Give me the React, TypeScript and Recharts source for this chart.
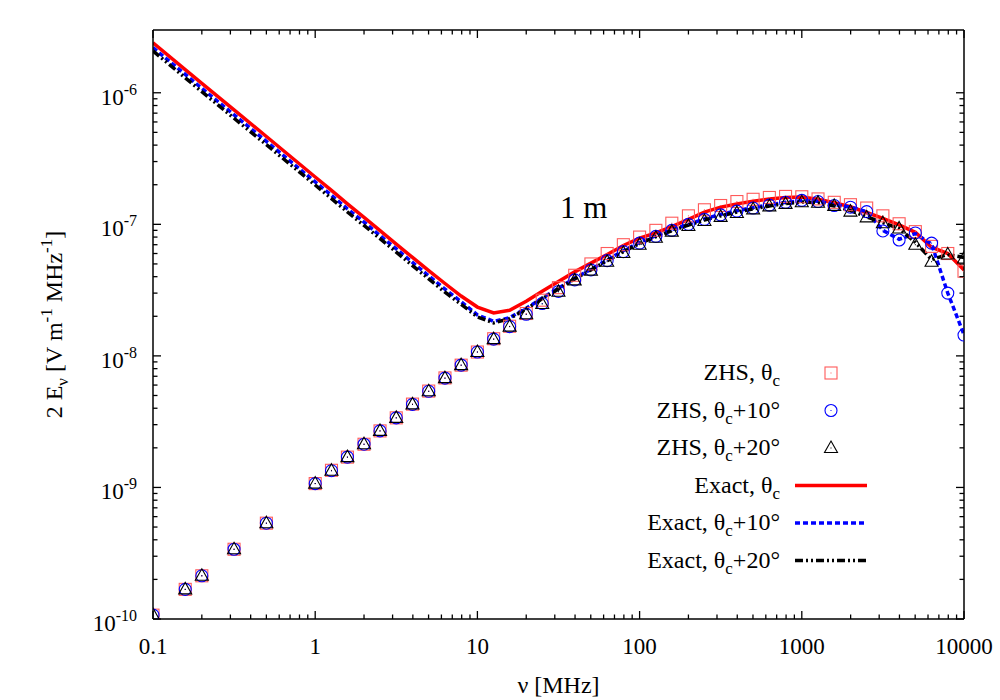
import React from "react";
import { ComposedChart, Legend, Line, Scatter, XAxis, YAxis } from "recharts";

// frequency grid [MHz]
const freq = [
  0.1, 0.158, 0.2, 0.316, 0.5,
  1, 1.26, 1.58, 2, 2.51, 3.16, 3.98, 5.01, 6.31, 7.94,
  10, 12.6, 15.8, 20, 25.1, 31.6, 39.8, 50.1, 63.1, 79.4,
  100, 126, 158, 200, 251, 316, 398, 501, 631, 794,
  1000, 1259, 1585, 1995, 2512, 3162, 3981, 5012, 6310, 7943,
  10000,
];

// ZHS points
const zhsTheta = [
  1.07e-10, 1.68e-10, 2.13e-10, 3.39e-10, 5.35e-10,
  1.07e-9, 1.35e-9, 1.7e-9, 2.13e-9, 2.69e-9, 3.38e-9, 4.3e-9, 5.4e-9, 6.8e-9, 8.5e-9,
  1.07e-8, 1.35e-8, 1.68e-8, 2.1e-8, 2.65e-8, 3.3e-8, 4.1e-8, 5.0e-8, 6.0e-8, 7.0e-8,
  8.0e-8, 9.0e-8, 1.02e-7, 1.16e-7, 1.29e-7, 1.39e-7, 1.49e-7, 1.55e-7, 1.6e-7, 1.63e-7,
  1.62e-7, 1.56e-7, 1.47e-7, 1.41e-7, 1.33e-7, 1.16e-7, 1.01e-7, 8.8e-8, 6.8e-8, 6.0e-8,
  4.4e-8,
];
const zhsTheta10 = [
  1.07e-10, 1.68e-10, 2.13e-10, 3.39e-10, 5.35e-10,
  1.07e-9, 1.34e-9, 1.7e-9, 2.13e-9, 2.69e-9, 3.38e-9, 4.28e-9, 5.38e-9, 6.77e-9, 8.5e-9,
  1.07e-8, 1.34e-8, 1.67e-8, 2.07e-8, 2.5e-8, 3.09e-8, 3.78e-8, 4.5e-8, 5.3e-8, 6.2e-8,
  7.2e-8, 8.1e-8, 9.0e-8, 1.0e-7, 1.09e-7, 1.18e-7, 1.26e-7, 1.33e-7, 1.4e-7, 1.47e-7,
  1.52e-7, 1.49e-7, 1.39e-7, 1.35e-7, 1.25e-7, 8.9e-8, 7.6e-8, 8.6e-8, 7.2e-8, 3.0e-8,
  1.44e-8,
];
const zhsTheta20 = [
  1.07e-10, 1.68e-10, 2.13e-10, 3.39e-10, 5.35e-10,
  1.07e-9, 1.34e-9, 1.7e-9, 2.13e-9, 2.69e-9, 3.38e-9, 4.28e-9, 5.38e-9, 6.77e-9, 8.5e-9,
  1.07e-8, 1.34e-8, 1.67e-8, 2.07e-8, 2.48e-8, 3.07e-8, 3.75e-8, 4.45e-8, 5.2e-8, 6.05e-8,
  7.0e-8, 7.9e-8, 8.8e-8, 9.7e-8, 1.06e-7, 1.14e-7, 1.22e-7, 1.3e-7, 1.37e-7, 1.43e-7,
  1.47e-7, 1.46e-7, 1.38e-7, 1.25e-7, 1.13e-7, 1.02e-7, 9.3e-8, 7.0e-8, 5.2e-8, 5.9e-8,
  5.5e-8,
];

// exact curves
const exactTheta = [
  2.4e-6, 1.5e-6, 1.18e-6, 7.4e-7, 4.65e-7,
  2.29e-7, 1.81e-7, 1.43e-7, 1.13e-7, 8.96e-8, 7.08e-8, 5.6e-8, 4.45e-8, 3.55e-8, 2.85e-8,
  2.35e-8, 2.12e-8, 2.22e-8, 2.6e-8, 3.1e-8, 3.67e-8, 4.35e-8, 5.07e-8, 5.9e-8, 6.9e-8,
  7.85e-8, 8.6e-8, 9.6e-8, 1.09e-7, 1.24e-7, 1.35e-7, 1.43e-7, 1.5e-7, 1.56e-7, 1.6e-7,
  1.61e-7, 1.55e-7, 1.46e-7, 1.36e-7, 1.23e-7, 1.11e-7, 9.9e-8, 8.7e-8, 6.7e-8, 6.0e-8,
  4.5e-8,
];
const exactTheta10 = [
  2.2e-6, 1.38e-6, 1.08e-6, 6.8e-7, 4.27e-7,
  2.1e-7, 1.66e-7, 1.31e-7, 1.04e-7, 8.2e-8, 6.5e-8, 5.13e-8, 4.06e-8, 3.22e-8, 2.58e-8,
  2.05e-8, 1.83e-8, 1.95e-8, 2.3e-8, 2.75e-8, 3.27e-8, 3.9e-8, 4.55e-8, 5.35e-8, 6.3e-8,
  7.3e-8, 8.2e-8, 9.1e-8, 1.0e-7, 1.1e-7, 1.19e-7, 1.27e-7, 1.34e-7, 1.41e-7, 1.47e-7,
  1.51e-7, 1.5e-7, 1.41e-7, 1.35e-7, 1.25e-7, 9.0e-8, 7.7e-8, 8.5e-8, 7.1e-8, 3.0e-8,
  1.45e-8,
];
const exactTheta20 = [
  2.08e-6, 1.3e-6, 1.02e-6, 6.4e-7, 4.03e-7,
  1.99e-7, 1.57e-7, 1.24e-7, 9.8e-8, 7.8e-8, 6.15e-8, 4.86e-8, 3.85e-8, 3.05e-8, 2.47e-8,
  1.98e-8, 1.78e-8, 1.92e-8, 2.27e-8, 2.72e-8, 3.22e-8, 3.85e-8, 4.5e-8, 5.28e-8, 6.2e-8,
  7.15e-8, 8.05e-8, 8.95e-8, 9.85e-8, 1.08e-7, 1.16e-7, 1.24e-7, 1.31e-7, 1.38e-7, 1.44e-7,
  1.48e-7, 1.46e-7, 1.38e-7, 1.27e-7, 1.14e-7, 1.03e-7, 9.3e-8, 7.3e-8, 5.4e-8, 5.9e-8,
  5.6e-8,
];

const xMajor = [0.1, 1, 10, 100, 1000, 10000];
const xLabels = ["0.1", "1", "10", "100", "1000", "10000"];
const yMajor = [1e-10, 1e-9, 1e-8, 1e-7, 1e-6];
const yLabels = ["-10", "-9", "-8", "-7", "-6"];

const minorsOf = (majors: number[]) => {
  const out: number[] = [];
  majors.forEach((m, i) => {
    out.push(m);
    if (i < majors.length - 1) for (let k = 2; k <= 9; k++) out.push(m * k);
  });
  return out;
};
const xTicks = minorsOf(xMajor);
const yTicks = minorsOf(yMajor);

const rows = freq.map((nu, i) => ({
  nu,
  zhs0: zhsTheta[i],
  zhs10: zhsTheta10[i],
  zhs20: zhsTheta20[i],
  ex0: exactTheta[i],
  ex10: exactTheta10[i],
  ex20: exactTheta20[i],
}));

const FONT = "'Liberation Serif', 'Times New Roman', serif";
const MAJ = 8;
const MIN = 4.5;
const isMajor = (v: number, majors: number[]) => majors.some((m) => Math.abs(m - v) / m < 1e-6);

const RED = "#ff0000";
const BLUE = "#0000ff";
const SQ = "#ff5a5a";

const BottomTick = (p: any) => {
  const v = p.payload.value;
  const maj = isMajor(v, xMajor);
  const idx = xMajor.findIndex((m) => Math.abs(m - v) / m < 1e-6);
  return (
    <g>
      <line x1={p.x} x2={p.x} y1={p.y} y2={p.y - (maj ? MAJ : MIN)} stroke="#000" strokeWidth={1.3} />
      {maj && (
        <text x={p.x} y={p.y + 35} textAnchor="middle" fontFamily={FONT} fontSize={23} fill="#000">
          {xLabels[idx]}
        </text>
      )}
    </g>
  );
};

const TopTick = (p: any) => {
  const maj = isMajor(p.payload.value, xMajor);
  return <line x1={p.x} x2={p.x} y1={p.y} y2={p.y + (maj ? MAJ : MIN)} stroke="#000" strokeWidth={1.3} />;
};

const LeftTick = (p: any) => {
  const v = p.payload.value;
  const maj = isMajor(v, yMajor);
  const idx = yMajor.findIndex((m) => Math.abs(m - v) / m < 1e-6);
  return (
    <g>
      <line x1={p.x} x2={p.x + (maj ? MAJ : MIN)} y1={p.y} y2={p.y} stroke="#000" strokeWidth={1.3} />
      {maj && (
        <text x={p.x - 16} y={p.y + 12} textAnchor="end" fontFamily={FONT} fontSize={23} fill="#000">
          10
          <tspan dy={-10} fontSize={16}>
            {yLabels[idx]}
          </tspan>
        </text>
      )}
    </g>
  );
};

const RightTick = (p: any) => {
  const maj = isMajor(p.payload.value, yMajor);
  return <line x1={p.x} x2={p.x - (maj ? MAJ : MIN)} y1={p.y} y2={p.y} stroke="#000" strokeWidth={1.3} />;
};

const SquareDot = (p: any) => (
  <g>
    <rect x={p.cx - 6} y={p.cy - 6} width={12} height={12} fill="none" stroke={SQ} strokeWidth={1.1} />
    <rect x={p.cx - 0.5} y={p.cy - 0.5} width={1} height={1} fill={SQ} />
  </g>
);
const CircleDot = (p: any) => (
  <g>
    <circle cx={p.cx} cy={p.cy} r={6} fill="none" stroke={BLUE} strokeWidth={1.1} />
    <rect x={p.cx - 0.5} y={p.cy - 0.5} width={1} height={1} fill={BLUE} />
  </g>
);
const TriangleDot = (p: any) => (
  <g>
    <path
      d={`M${p.cx},${p.cy - 7} L${p.cx + 6.5},${p.cy + 4.5} L${p.cx - 6.5},${p.cy + 4.5} Z`}
      fill="none"
      stroke="#000"
      strokeWidth={1.1}
    />
    <rect x={p.cx - 0.5} y={p.cy - 0.5} width={1} height={1} fill="#000" />
  </g>
);

const entries = [
  { name: "ZHS, θ", tail: "", kind: "sq" },
  { name: "ZHS, θ", tail: "+10°", kind: "ci" },
  { name: "ZHS, θ", tail: "+20°", kind: "tr" },
  { name: "Exact, θ", tail: "", kind: "red" },
  { name: "Exact, θ", tail: "+10°", kind: "blue" },
  { name: "Exact, θ", tail: "+20°", kind: "black" },
];

const LegendBox = () => (
  <svg width={1000} height={700} style={{ position: "absolute", left: 0, top: 0 }}>
    <text x={560} y={218} fontFamily={FONT} fontSize={31} fill="#000">
      1 m
    </text>
    {entries.map((e, i) => {
      const cy = 373 + i * 37.5;
      let mark: React.ReactNode = null;
      if (e.kind === "sq") mark = <SquareDot cx={831} cy={cy} />;
      if (e.kind === "ci") mark = <CircleDot cx={831} cy={cy} />;
      if (e.kind === "tr") mark = <TriangleDot cx={831} cy={cy} />;
      if (e.kind === "red") mark = <line x1={795} x2={867} y1={cy} y2={cy} stroke={RED} strokeWidth={3.5} />;
      if (e.kind === "blue")
        mark = <line x1={795} x2={867} y1={cy} y2={cy} stroke={BLUE} strokeWidth={3.5} strokeDasharray="5 3" />;
      if (e.kind === "black")
        mark = (
          <line x1={795} x2={867} y1={cy} y2={cy} stroke="#000" strokeWidth={3.5} strokeDasharray="8 3 2 3 2 3" />
        );
      return (
        <g key={i}>
          <text x={780} y={cy + 7} textAnchor="end" fontFamily={FONT} fontSize={24} fill="#000">
            {e.name}
            <tspan dy={6} fontSize={17}>
              c
            </tspan>
            {e.tail && <tspan dy={-6}>{e.tail}</tspan>}
          </text>
          {mark}
        </g>
      );
    })}
  </svg>
);

const XTitle = (p: any) => {
  const vb = p.viewBox || { x: 153, width: 811 };
  return (
    <text x={vb.x + vb.width / 2} y={693} textAnchor="middle" fontFamily={FONT} fontSize={24} fill="#000">
      ν [MHz]
    </text>
  );
};

const YTitle = (p: any) => {
  const vb = p.viewBox || { y: 30, height: 589 };
  const cy = vb.y + vb.height / 2;
  return (
    <text
      x={62}
      y={cy}
      transform={`rotate(-90, 62, ${cy})`}
      textAnchor="middle"
      fontFamily={FONT}
      fontSize={24}
      fill="#000"
    >
      2 E
      <tspan dy={6} fontSize={17}>
        ν
      </tspan>
      <tspan dy={-6}> [V m</tspan>
      <tspan dy={-10} fontSize={17}>
        -1
      </tspan>
      <tspan dy={10}> MHz</tspan>
      <tspan dy={-10} fontSize={17}>
        -1
      </tspan>
      <tspan dy={10}>]</tspan>
    </text>
  );
};

const axisLine = { stroke: "#000", strokeWidth: 1.5 };

export default function App() {
  return (
    <div style={{ position: "absolute", left: 0, top: 0, width: 1000, height: 700, background: "#fff" }}>
      <ComposedChart width={1000} height={700} data={rows} margin={{ top: 0, right: 0, bottom: 0, left: 0 }}>
        <XAxis
          xAxisId="b"
          dataKey="nu"
          type="number"
          scale="log"
          domain={[0.1, 10000]}
          allowDataOverflow
          ticks={xTicks}
          interval={0}
          tick={<BottomTick />}
          tickLine={false}
          tickSize={0}
          tickMargin={0}
          axisLine={axisLine}
          height={81}
          label={<XTitle />}
        />
        <XAxis
          xAxisId="t"
          orientation="top"
          dataKey="nu"
          type="number"
          scale="log"
          domain={[0.1, 10000]}
          allowDataOverflow
          ticks={xTicks}
          interval={0}
          tick={<TopTick />}
          tickLine={false}
          tickSize={0}
          tickMargin={0}
          axisLine={axisLine}
          height={30}
        />
        <YAxis
          yAxisId="l"
          type="number"
          scale="log"
          domain={[1e-10, 3e-6]}
          allowDataOverflow
          ticks={yTicks}
          interval={0}
          tick={<LeftTick />}
          tickLine={false}
          tickSize={0}
          tickMargin={0}
          axisLine={axisLine}
          width={153}
          label={<YTitle />}
        />
        <YAxis
          yAxisId="r"
          orientation="right"
          type="number"
          scale="log"
          domain={[1e-10, 3e-6]}
          allowDataOverflow
          ticks={yTicks}
          interval={0}
          tick={<RightTick />}
          tickLine={false}
          tickSize={0}
          tickMargin={0}
          axisLine={axisLine}
          width={36}
        />
        <Scatter xAxisId="b" yAxisId="l" dataKey="zhs0" shape={<SquareDot />} isAnimationActive={false} />
        <Scatter xAxisId="b" yAxisId="l" dataKey="zhs10" shape={<CircleDot />} isAnimationActive={false} />
        <Scatter xAxisId="b" yAxisId="l" dataKey="zhs20" shape={<TriangleDot />} isAnimationActive={false} />
        <Line
          xAxisId="b"
          yAxisId="l"
          dataKey="ex0"
          type="linear"
          stroke={RED}
          strokeWidth={3.5}
          dot={false}
          activeDot={false}
          isAnimationActive={false}
        />
        <Line
          xAxisId="b"
          yAxisId="l"
          dataKey="ex10"
          type="linear"
          stroke={BLUE}
          strokeWidth={3.5}
          strokeDasharray="5 3"
          dot={false}
          activeDot={false}
          isAnimationActive={false}
        />
        <Line
          xAxisId="b"
          yAxisId="l"
          dataKey="ex20"
          type="linear"
          stroke="#000"
          strokeWidth={3.5}
          strokeDasharray="8 3 2 3 2 3"
          dot={false}
          activeDot={false}
          isAnimationActive={false}
        />
        <Legend
          layout="vertical"
          align="center"
          verticalAlign="middle"
          wrapperStyle={{ position: "absolute", left: 0, top: 0, width: 1000, height: 700, pointerEvents: "none" }}
          content={<LegendBox />}
        />
      </ComposedChart>
    </div>
  );
}
